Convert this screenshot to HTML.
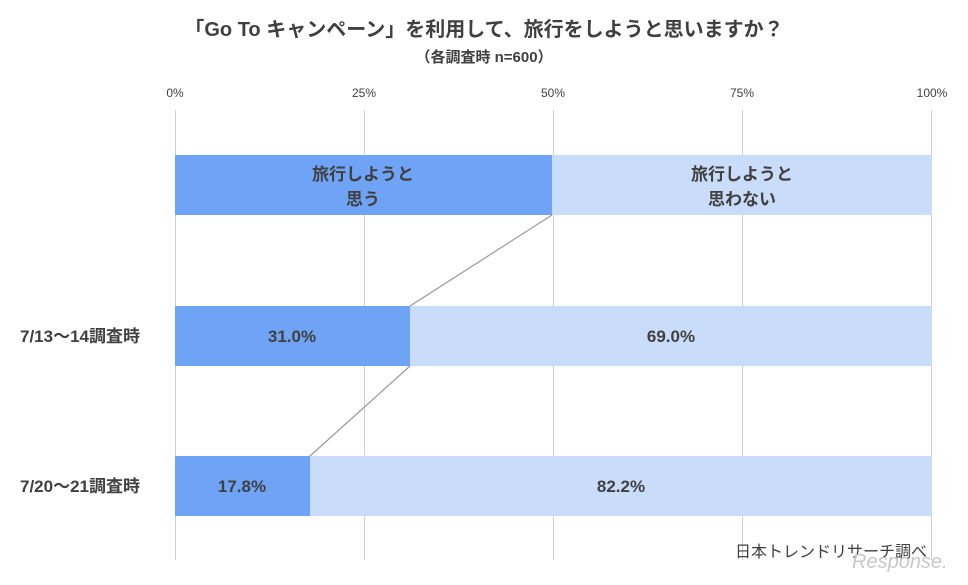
<!DOCTYPE html>
<html><head><meta charset="utf-8"><style>
body{margin:0;background:#fff;}
svg text{font-family:"Liberation Sans","Noto Sans CJK JP",sans-serif;fill:#404040;}
</style></head><body>
<svg width="968" height="580" viewBox="0 0 968 580" xmlns="http://www.w3.org/2000/svg">
<rect width="968" height="580" fill="#fff"/>
<text x="484" y="36" font-size="20" font-weight="bold" text-anchor="middle">「Go To キャンペーン」を利用して、旅行をしようと思いますか？</text>
<text x="484" y="62" font-size="15" font-weight="bold" text-anchor="middle">（各調査時 n=600）</text>
<g font-size="12" text-anchor="middle">
<text x="175" y="97">0%</text><text x="364" y="97">25%</text><text x="553" y="97">50%</text><text x="742" y="97">75%</text><text x="932" y="97">100%</text>
</g>
<g stroke="#d0d0d0" stroke-width="1">
<line x1="175.5" y1="110" x2="175.5" y2="560"/><line x1="364.5" y1="110" x2="364.5" y2="560"/><line x1="553.5" y1="110" x2="553.5" y2="560"/><line x1="742.5" y1="110" x2="742.5" y2="560"/><line x1="931.5" y1="110" x2="931.5" y2="560"/>
</g>
<rect x="175" y="155" width="377" height="60" fill="#6fa3f5"/>
<rect x="552" y="155" width="380" height="60" fill="#c9dcfa"/>
<rect x="175" y="306" width="235" height="60" fill="#6fa3f5"/>
<rect x="410" y="306" width="522" height="60" fill="#c9dcfa"/>
<rect x="175" y="456" width="135" height="60" fill="#6fa3f5"/>
<rect x="310" y="456" width="622" height="60" fill="#c9dcfa"/>
<g stroke="#999" stroke-width="1.2">
<line x1="552" y1="215" x2="410" y2="306"/><line x1="410" y1="366" x2="310" y2="456"/>
</g>
<g font-size="17" font-weight="bold" text-anchor="middle">
<text x="363" y="180">旅行しようと</text><text x="363" y="205">思う</text>
<text x="742" y="180">旅行しようと</text><text x="742" y="205">思わない</text>
<text x="292" y="342">31.0%</text><text x="671" y="342">69.0%</text>
<text x="242" y="492">17.8%</text><text x="621" y="492">82.2%</text>
<text x="80" y="342">7/13～14調査時</text>
<text x="80" y="492">7/20～21調査時</text>
</g>
<text x="735" y="557" font-size="16">日本トレンドリサーチ調べ</text>
<text x="852" y="568" font-size="20" font-style="italic" style="fill:#c8c8c8">Response.</text>
</svg>
</body></html>
